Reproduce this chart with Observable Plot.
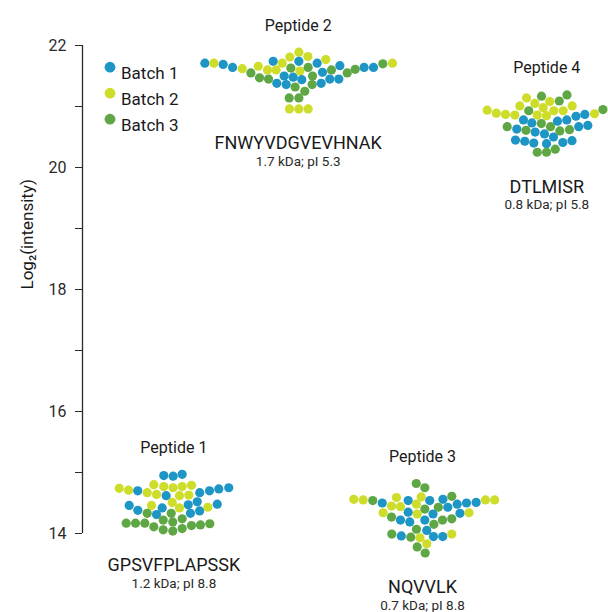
<!DOCTYPE html>
<html>
<head>
<meta charset="utf-8">
<script src="https://cdn.jsdelivr.net/npm/d3@7"></script>
<script src="https://cdn.jsdelivr.net/npm/@observablehq/plot@0.6"></script>
<style>
  body { margin: 0; background: #fff; }
  #chart { width: 608px; height: 612px; }
</style>
</head>
<body>
<div id="chart"></div>
<script>
// ---- data ----
const peptides = ["Peptide 1", "Peptide 2", "Peptide 3", "Peptide 4"];
const sequences = ["GPSVFPLAPSSK", "FNWYVDGVEVHNAK", "NQVVLK", "DTLMISR"];
const details = ["1.2 kDa; pI 8.8", "1.7 kDa; pI 5.3", "0.7 kDa; pI 8.8", "0.8 kDa; pI 5.8"];
const batches = ["Batch 1", "Batch 2", "Batch 3"];
const yTicks = [14, 15, 16, 17, 18, 19, 20, 21, 22];
const yTitle = "Log₂(intensity)";

// each point: [swarm offset (dot widths), log2 intensity, batch number]
const peptide1 = [
  [-1.09,14.95,1],[-0.08,14.94,1],[0.89,14.97,1],
  [-5.88,14.74,2],[-4.88,14.71,2],[-3.89,14.70,1],[-2.87,14.67,2],[-2.16,14.80,2],[-1.87,14.64,2],
  [-1.09,14.77,2],[-0.83,14.62,1],[-0.08,14.75,2],[0.60,14.62,2],[0.89,14.77,2],[1.60,14.63,2],
  [1.89,14.79,2],[2.78,14.67,1],[3.83,14.70,1],[4.83,14.73,1],[5.90,14.75,1],
  [-4.81,14.46,1],[-3.88,14.38,1],[-2.41,14.46,2],[-2.87,14.33,3],[-1.87,14.31,1],[-1.26,14.42,1],
  [-0.18,14.51,2],[-0.29,14.33,3],[0.60,14.42,2],[1.54,14.47,1],[2.51,14.52,1],[1.78,14.33,1],
  [2.77,14.37,1],[3.65,14.43,2],[4.66,14.48,1],
  [-5.13,14.17,3],[-4.13,14.17,3],[-3.13,14.17,3],[-2.16,14.11,3],[-1.15,14.22,3],[-1.15,14.06,3],
  [-0.12,14.19,3],[-0.12,14.04,3],[0.89,14.24,3],[0.89,14.08,3],[1.89,14.13,3],[2.86,14.14,3],[3.86,14.16,3]
];
const peptide2 = [
  [-10.04,21.71,1],[-9.07,21.71,2],[-8.07,21.69,1],[-7.06,21.64,1],[-6.02,21.62,2],[-5.09,21.55,3],
  [-4.30,21.66,2],[-4.16,21.47,3],[-3.30,21.60,2],[-3.19,21.45,3],[-2.69,21.74,1],[-2.37,21.60,2],
  [-2.30,21.38,1],[-1.72,21.71,2],[-1.51,21.50,1],[-1.29,21.36,1],[-0.90,21.81,2],[-0.79,21.63,3],
  [-0.54,21.48,1],[-0.33,21.32,3],[-0.97,21.14,3],[-0.94,20.96,2],[0.07,21.89,2],[0.07,21.74,1],
  [0.18,21.58,2],[0.39,21.44,1],[0.71,21.25,3],[0.07,21.14,3],[0.07,20.96,2],[1.04,21.82,2],
  [1.07,21.64,3],[1.54,21.50,3],[1.50,21.36,3],[1.07,20.96,2],[2.04,21.71,1],[2.61,21.56,1],
  [2.47,21.38,1],[2.97,21.77,2],[3.58,21.60,3],[3.40,21.45,1],[4.48,21.67,1],[4.37,21.45,1],
  [5.27,21.55,3],[6.13,21.61,3],[7.09,21.64,1],[8.10,21.64,1],[9.10,21.70,3],[10.14,21.71,2]
];
const peptide3 = [
  [-0.67,14.82,3],[0.25,14.75,3],
  [-7.39,14.56,2],[-6.38,14.55,2],[-5.35,14.54,3],[-4.33,14.50,1],[-2.80,14.59,2],[-3.33,14.45,2],
  [-2.37,14.44,2],[-1.54,14.54,1],[-0.65,14.48,2],[-0.14,14.60,2],[0.78,14.54,1],[0.25,14.40,3],
  [2.20,14.56,1],[3.15,14.61,3],[1.70,14.43,3],[2.72,14.43,1],[3.73,14.48,1],[4.73,14.50,1],
  [5.77,14.51,1],[6.77,14.55,2],[7.76,14.55,2],
  [-4.23,14.34,2],[-3.33,14.27,3],[-1.54,14.35,1],[-0.57,14.32,2],[-2.37,14.22,1],[-1.37,14.19,1],
  [0.25,14.22,1],[1.13,14.32,1],[4.03,14.33,1],[5.00,14.34,2],[2.15,14.22,3],[3.15,14.24,3],
  [1.22,14.15,3],[0.46,14.05,1],[-0.65,14.07,3],
  [-3.30,13.99,3],[-2.28,13.96,1],[-1.26,13.94,3],[-0.27,13.93,2],[1.18,13.95,1],[2.18,13.95,1],[3.15,13.99,2],
  [0.46,13.83,2],[-0.57,13.78,3],[0.29,13.68,3]
];
const peptide4 = [
  [-6.41,20.94,2],[-5.43,20.89,2],[-4.44,20.87,2],[-3.44,20.86,2],[-2.18,21.14,2],[-2.90,21.01,2],
  [-1.94,20.93,3],[-1.29,21.05,2],[-0.57,21.17,3],[-0.39,20.98,2],[-1.03,20.86,2],[-0.03,20.85,2],
  [0.31,21.08,2],[1.34,21.09,3],[2.17,21.19,3],[0.75,20.93,2],[1.76,20.93,2],[2.73,21.01,2],
  [3.14,20.84,1],[4.09,20.87,1],[5.13,20.88,2],[6.04,20.95,3],
  [-4.26,20.67,3],[-3.23,20.63,1],[-2.51,20.78,1],[-2.24,20.61,3],[-1.61,20.73,1],[-1.25,20.58,1],
  [-0.59,20.72,3],[-0.25,20.55,1],[0.40,20.67,3],[0.72,20.50,1],[1.15,20.76,1],[1.40,20.60,3],
  [2.15,20.78,1],[2.44,20.62,3],[3.43,20.67,1],[4.41,20.69,1],
  [-3.37,20.45,1],[-2.37,20.43,1],[-1.40,20.40,1],[-0.03,20.39,1],[1.72,20.41,1],[2.71,20.44,1],
  [-1.03,20.25,3],[-0.03,20.25,3],[0.91,20.30,3]
];

// ---- styling ----
const batchColors = ["#1d95c5", "#cedc2a", "#5fa744"];
const FONT = "Roboto, 'Noto Sans', sans-serif";
const SWARM_STEP = 0.0748; // category units per dot width

const rows = [];
[peptide1, peptide2, peptide3, peptide4].forEach((arr, i) =>
  arr.forEach(([off, v, b]) => rows.push({pep: i + 1, offset: off, value: v, batch: batches[b - 1]}))
);
const labels = peptides.map((name, i) => {
  const pts = rows.filter(r => r.pep === i + 1);
  return {pep: i + 1, name, seq: sequences[i], info: details[i],
          top: d3.max(pts, r => r.value), bottom: d3.min(pts, r => r.value)};
});

const legendMarks = batches.flatMap((b, i) => [
  Plot.dot([b], {frameAnchor: "top-left", dx: 27.5, dy: 21.7 + i * 26, r: 5.4, fill: batchColors[i]}),
  Plot.text([b], {frameAnchor: "top-left", dx: 38.5, dy: 21.7 + i * 26, text: d => d,
                  textAnchor: "start", fontSize: 17, fill: "#1a1a1a"})
]);

const plot = Plot.plot({
  width: 608,
  height: 612,
  marginTop: 45,
  marginBottom: 79,
  marginLeft: 82,
  marginRight: 0,
  style: {fontFamily: FONT, background: "#fff", overflow: "visible"},
  x: {domain: [1, 4], range: [173.4, 546.3], axis: null},
  y: {domain: [14, 22]},
  color: {domain: batches, range: batchColors},
  marks: [
    Plot.axisY({ticks: yTicks, tickFormat: d => d % 2 === 0 ? String(d) : "",
                tickSize: 7, tickPadding: 9, fontSize: 16, label: null, color: "#2a2a2a"}),
    Plot.text([yTitle], {frameAnchor: "left", dx: -55, rotate: -90, text: d => d,
                         fontSize: 17, fill: "#1a1a1a"}),
    Plot.dot(rows, {x: d => d.pep + d.offset * SWARM_STEP, y: "value", r: 4.6, fill: "batch"}),
    Plot.text(labels, {x: "pep", y: "top", text: "name", dy: -21.7, lineAnchor: "bottom",
                       fontSize: 16, fill: "#1a1a1a"}),
    Plot.text(labels, {x: "pep", y: "bottom", text: "seq", dy: 40.4, lineAnchor: "bottom",
                       fontSize: 18, fill: "#1a1a1a"}),
    Plot.text(labels, {x: "pep", y: "bottom", text: "info", dy: 57, lineAnchor: "bottom",
                       fontSize: 13.5, fill: "#2a2a2a"}),
    ...legendMarks
  ]
});

// axis domain line along the y scale
const ys = plot.scale("y");
d3.select(plot).append("line")
  .attr("x1", 82.5).attr("x2", 82.5)
  .attr("y1", ys.apply(22)).attr("y2", ys.apply(14))
  .attr("stroke", "#2a2a2a").attr("stroke-width", 1.3);

document.getElementById("chart").appendChild(plot);
</script>
</body>
</html>
